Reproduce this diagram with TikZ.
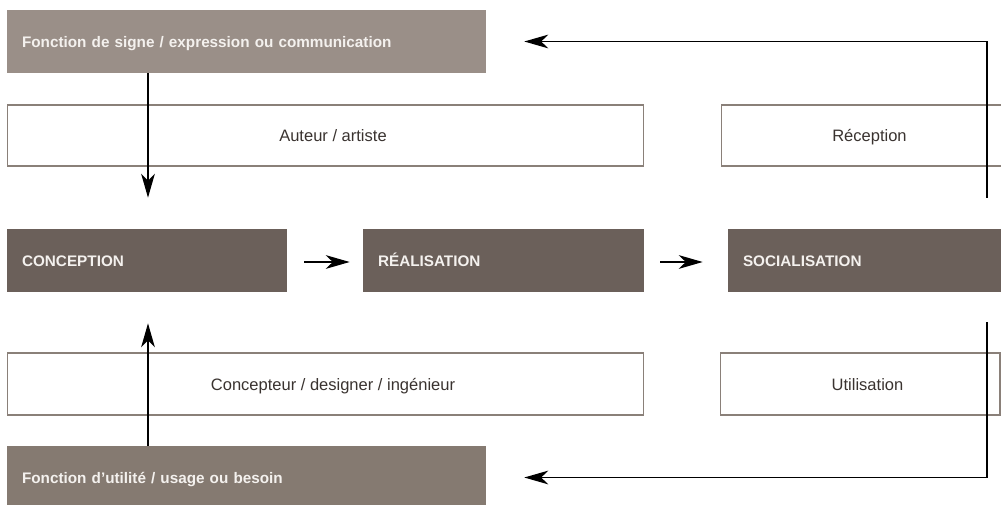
\documentclass[tikz,border=0pt]{standalone}
\usepackage{fontspec}
\setmainfont{Liberation Sans}
\usetikzlibrary{arrows.meta,calc}
\definecolor{sigcol}{HTML}{9A8F88}
\definecolor{utlcol}{HTML}{857A71}
\definecolor{darkcol}{HTML}{6B605A}
\definecolor{edgecol}{HTML}{8A8079}
\definecolor{txtcol}{HTML}{3A3330}
\definecolor{lightxt}{HTML}{F4F1EE}
\begin{document}
\begin{tikzpicture}[x=0.02cm,y=-0.02cm,
  filledbox/.style={rectangle, draw=none, text=lightxt, align=left,
    inner xsep=0.3cm, inner ysep=0pt, minimum height=1.26cm,
    text height=6.6pt, text depth=0pt,
    font=\fontsize{8.7pt}{10pt}\selectfont\bfseries},
  sigbox/.style={filledbox, fill=sigcol},
  utlbox/.style={filledbox, fill=utlcol},
  stagebox/.style={filledbox, fill=darkcol},
  rolebox/.style={rectangle, draw=edgecol, line width=0.6pt, fill=white, text=txtcol,
    inner sep=0pt, minimum height=1.22cm,
    text height=7pt, text depth=0pt,
    execute at begin node={\hspace*{0.3cm}},
    font=\fontsize{9.4pt}{11pt}\selectfont},
  arr/.style={draw=black, line width=0.75pt,
    -{Stealth[length=13.6pt,width=7.8pt,inset=4pt]}}
]
\useasboundingbox (0,0) rectangle (1001,504);
\clip (0,0) rectangle (1001,504);

% top function box
\node[sigbox, text width=8.98cm] (sig) at (246.5,41.5) {Fonction de signe / expression ou communication};

% role boxes
\node[rolebox, minimum width=12.74cm] (aut) at (325.5,135.5) {Auteur / artiste};
\node[rolebox, minimum width=5.64cm] (rec) at (862,135.5) {Réception};
\node[rolebox, minimum width=12.74cm, minimum height=1.24cm] (con) at (325.5,384) {Concepteur / designer / ingénieur};
\node[rolebox, minimum width=5.6cm, minimum height=1.24cm] (uti) at (860,384) {Utilisation};

% stage boxes
\node[stagebox, text width=5.0cm] (conc) at (147,260.5) {CONCEPTION};
\node[stagebox, text width=5.02cm] (real) at (503.5,260.5) {RÉALISATION};
\node[stagebox, text width=5.0cm] (soc) at (868,260.5) {SOCIALISATION};

% bottom function box
\node[utlbox, text width=8.98cm] (utl) at (246.5,477.5) {Fonction d’utilité / usage ou besoin};

% connectors
\draw[arr] (sig.south -| 148,0) -- ($(conc.north -| 148,0)+(0,-31)$);
\draw[arr] (utl.north -| 148,0) -- ($(conc.south -| 148,0)+(0,31)$);
\draw[arr] ($(conc.east)+(17,1.5)$) -- ($(real.west)+(-13,1.5)$);
\draw[arr] ($(real.east)+(16,1.5)$) -- ($(soc.west)+(-25,1.5)$);

\coordinate (topstart) at ($(soc.north -| 987,0)+(0,-31)$);
\coordinate (botstart) at ($(soc.south -| 987,0)+(0,30)$);
\draw[arr] (topstart) |- ($(sig.east)+(38,0)$);
\draw[arr] (botstart) |- ($(utl.east)+(38,0)$);
\end{tikzpicture}
\end{document}
